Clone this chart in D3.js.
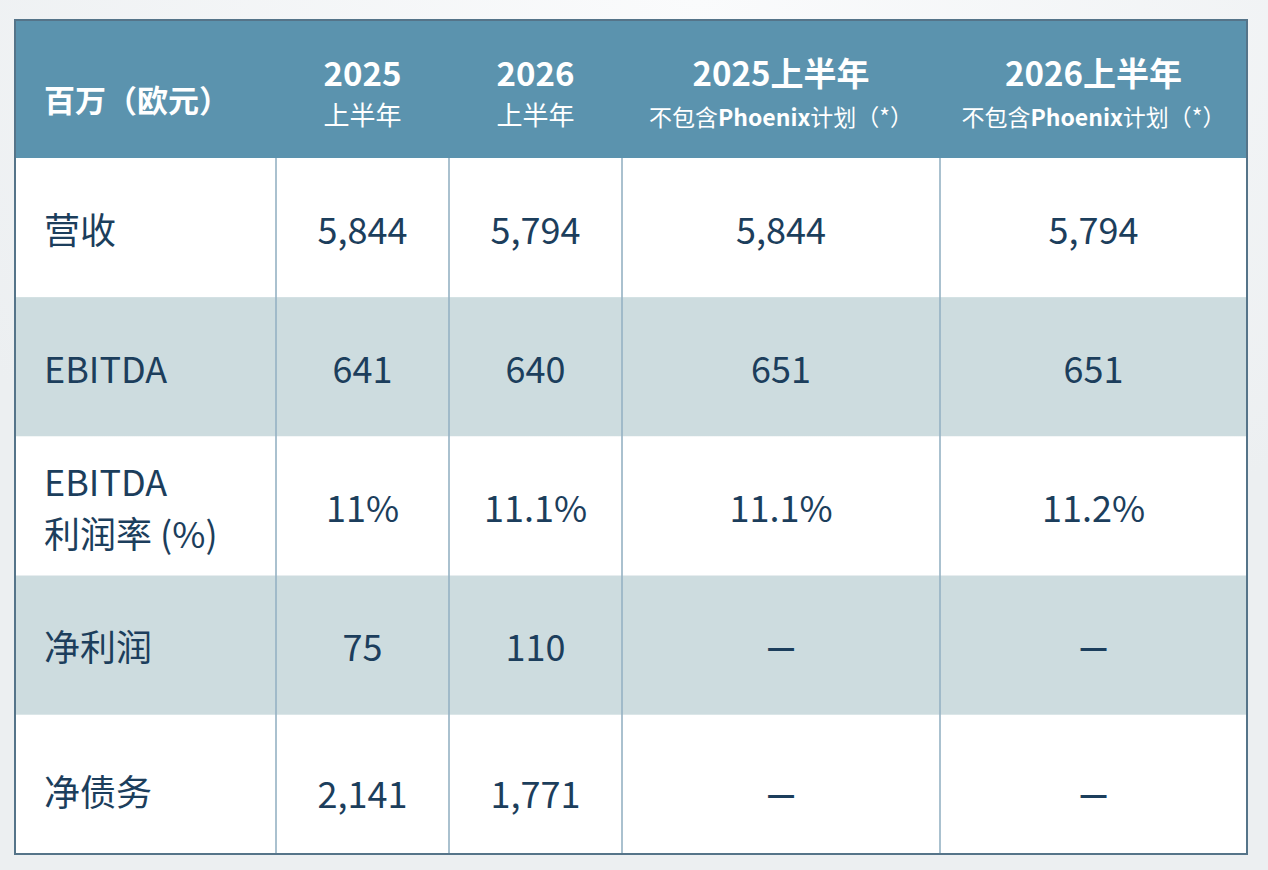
<!DOCTYPE html>
<html><head><meta charset="utf-8">
<script src="https://cdn.jsdelivr.net/npm/d3@7"></script>
<style>
html,body{margin:0;padding:0;}
body{width:1268px;height:870px;overflow:hidden;background:#eef1f3;}
svg{display:block;}
</style></head>
<body>
<script>
// ---- data ----
const cornerLabel = "百万（欧元）";
const columnTitles = ["2025", "2026", "2025上半年", "2026上半年"];
const columnSubtitles = ["上半年", "上半年", "不包含Phoenix计划（*）", "不包含Phoenix计划（*）"];
const rowLabels = [["营收"], ["EBITDA"], ["EBITDA", "利润率 (%)"], ["净利润"], ["净债务"]];
const values2025 = ["5,844", "641", "11%", "75", "2,141"];
const values2026 = ["5,794", "640", "11.1%", "110", "1,771"];
const values2025ex = ["5,844", "651", "11.1%", "—", "—"];
const values2026ex = ["5,794", "651", "11.2%", "—", "—"];
const valueColumns = [values2025, values2026, values2025ex, values2026ex];

(function () {
// ---- layout ----
const W = 1268, H = 870;
const tLeft = 15, tRight = 1247, tTop = 20, headerBottom = 158, tBottom = 854;
const colEdges = [tLeft, 276, 449, 622, 940, tRight];
const font = "'Noto Sans CJK SC','Noto Sans',sans-serif";
const navy = "#1c3e5c";

const svg = d3.select("body").append("svg").attr("width", W).attr("height", H);

const defs = svg.append("defs");
const rg = defs.append("radialGradient").attr("id", "bg").attr("cx", "55%").attr("cy", "0%").attr("r", "70%");
rg.append("stop").attr("offset", "0%").attr("stop-color", "#fafbfc");
rg.append("stop").attr("offset", "100%").attr("stop-color", "#eceff1");
svg.append("rect").attr("width", W).attr("height", H).attr("fill", "url(#bg)");

const y = d3.scaleBand().domain(d3.range(rowLabels.length)).range([headerBottom, tBottom]).paddingInner(0);
const x0 = d3.scaleOrdinal().domain(d3.range(colEdges.length - 1)).range(colEdges.slice(0, -1));
const x1 = d3.scaleOrdinal().domain(d3.range(colEdges.length - 1)).range(colEdges.slice(1));
const cx = i => (x0(i) + x1(i)) / 2;

// header
svg.append("rect").attr("x", tLeft).attr("y", tTop).attr("width", tRight - tLeft).attr("height", headerBottom - tTop).attr("fill", "#5b93ae");

// rows
svg.selectAll("rect.row").data(rowLabels).join("rect").attr("class", "row")
  .attr("x", tLeft).attr("y", (d, i) => y(i)).attr("width", tRight - tLeft).attr("height", y.bandwidth())
  .attr("fill", (d, i) => i % 2 === 1 ? "#cddcdf" : "#ffffff");

// vertical lines (body)
svg.selectAll("line.v").data(colEdges.slice(1, -1)).join("line").attr("class", "v")
  .attr("x1", d => d).attr("x2", d => d).attr("y1", headerBottom).attr("y2", tBottom)
  .attr("stroke", "#95b2c3").attr("stroke-width", 1.6);

// frame
svg.append("rect").attr("x", tLeft).attr("y", tTop).attr("width", tRight - tLeft).attr("height", tBottom - tTop)
  .attr("fill", "none").attr("stroke", "#557489").attr("stroke-width", 2);

// header texts
svg.append("text").attr("x", 44).attr("y", 98).attr("dominant-baseline", "central")
  .attr("font-family", font).attr("font-weight", 700).attr("font-size", 31).attr("fill", "#fff").text(cornerLabel);

columnTitles.forEach((t, i) => {
  const c = i + 1;
  svg.append("text").attr("x", cx(c)).attr("y", 72).attr("text-anchor", "middle").attr("dominant-baseline", "central")
    .attr("font-family", font).attr("font-weight", 700).attr("font-size", 33).attr("fill", "#fff").text(t);
  const sub = svg.append("text").attr("x", cx(c)).attr("y", i < 2 ? 113 : 116).attr("text-anchor", "middle").attr("dominant-baseline", "central")
    .attr("font-family", font).attr("font-size", i < 2 ? 26 : 23).attr("fill", "#fff");
  const s = columnSubtitles[i];
  const m = s.match(/^(.*?)([A-Za-z]+)(.*)$/);
  if (m) {
    sub.append("tspan").text(m[1]);
    sub.append("tspan").attr("font-weight", 700).text(m[2]);
    sub.append("tspan").text(m[3]);
  } else sub.text(s);
});

// row labels
rowLabels.forEach((lines, i) => {
  const mid = y(i) + y.bandwidth() / 2 + (i === rowLabels.length - 1 ? 6 : 0);
  const lh = 52;
  lines.forEach((l, k) => {
    svg.append("text").attr("x", 44).attr("y", mid + (k - (lines.length - 1) / 2) * lh)
      .attr("dominant-baseline", "central").attr("font-family", font).attr("font-size", 36)
      .attr("fill", navy).text(l);
  });
});

// values
valueColumns.forEach((vals, ci) => {
  const c = ci + 1;
  svg.selectAll(null).data(vals).join("text")
    .attr("x", cx(c))
    .attr("y", (d, i) => y(i) + y.bandwidth() / 2 + (i === vals.length - 1 ? 8 : 0))
    .attr("text-anchor", "middle").attr("dominant-baseline", "central")
    .attr("font-family", font).attr("font-size", d => d === "—" ? 32 : 36)
    .attr("font-weight", d => d === "—" ? 700 : 400)
    .attr("fill", navy).text(d => d);
});
})();
</script>
</body></html>
